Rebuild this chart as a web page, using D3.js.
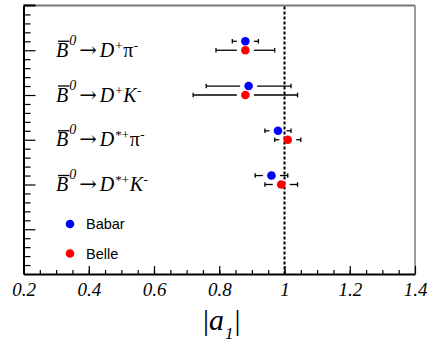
<!DOCTYPE html>
<html>
<head>
<meta charset="utf-8">
<script src="https://cdn.jsdelivr.net/npm/d3@7"></script>
<style>
  body { margin: 0; background: #fff; }
  svg { display: block; }
</style>
</head>
<body>
<script>
// decay channels, B0bar -> D(state) + light meson
const dStates = ["+", "+", "*+", "*+"];
const lightMesons = ["π", "K", "π", "K"];

// |a1| values
const babar = [0.88, 0.89, 0.98, 0.96];
const babarErr = [0.04, 0.13, 0.04, 0.05];
const belle = [0.88, 0.88, 1.01, 0.99];
const belleErr = [0.09, 0.16, 0.04, 0.05];

const xTicks = [0.2, 0.4, 0.6, 0.8, 1.0, 1.2, 1.4];

const width = 427, height = 343;
const frameL = 23.5, frameR = 415, frameT = 5.5, frameB = 274;

const svg = d3.select("body").append("svg")
  .attr("width", width)
  .attr("height", height);

const x = d3.scaleLinear().domain([0.2, 1.4]).range([frameL, frameR]);
const y = d3.scaleLinear().domain([0, 6]).range([frameB, frameT]);

// frame (top and right drawn greyish like the original)
svg.append("line").attr("x1", frameL).attr("x2", frameR).attr("y1", frameT).attr("y2", frameT)
  .attr("stroke", "#777").attr("stroke-width", 2);
svg.append("line").attr("x1", frameL).attr("x2", frameL + 12).attr("y1", frameT).attr("y2", frameT)
  .attr("stroke", "#000").attr("stroke-width", 2);
svg.append("line").attr("x1", frameR).attr("x2", frameR).attr("y1", frameT).attr("y2", frameB)
  .attr("stroke", "#666").attr("stroke-width", 1.3);

// x axis, ticks pointing inward
const fmt = d => String(+d.toFixed(1));
const xAxis = svg.append("g")
  .attr("transform", `translate(0,${frameB})`)
  .call(d3.axisBottom(x).tickValues(xTicks).tickSizeInner(-8).tickSizeOuter(0)
    .tickPadding(9).tickFormat(fmt));
svg.append("g")
  .attr("transform", `translate(0,${frameB})`)
  .call(d3.axisBottom(x).tickValues(d3.range(0.25, 1.4, 0.05)).tickSizeInner(-4)
    .tickSizeOuter(0).tickFormat(""))
  .select(".domain").remove();
xAxis.select(".domain").attr("stroke-width", 2);
xAxis.selectAll("text")
  .attr("font-family", "Liberation Serif, serif")
  .attr("font-style", "italic")
  .attr("font-size", 19)
  .attr("fill", "#000");

// y axis, no labels
const yAxis = svg.append("g")
  .attr("transform", `translate(${frameL},0)`)
  .call(d3.axisLeft(y).tickValues([1, 2, 3, 4, 5]).tickSizeInner(-12).tickSizeOuter(0).tickFormat(""));
yAxis.select(".domain").attr("stroke-width", 2);
svg.append("g")
  .attr("transform", `translate(${frameL},0)`)
  .call(d3.axisLeft(y).tickValues(d3.range(0.2, 6, 0.2).filter(v => Math.abs(v - Math.round(v)) > 0.01))
    .tickSizeInner(-7).tickSizeOuter(0).tickFormat(""))
  .select(".domain").remove();
svg.selectAll(".tick line").attr("stroke", "#000").attr("stroke-width", 1.2);

// reference line at |a1| = 1
svg.append("line")
  .attr("x1", x(1)).attr("x2", x(1)).attr("y1", frameT + 1).attr("y2", frameB)
  .attr("stroke", "#000").attr("stroke-width", 2).attr("stroke-dasharray", "3,2");

// points with ROOT-style error bars (gap around the marker, end caps)
const gap = 8.5, cap = 2.3;
function drawPoints(vals, errs, color, offset) {
  const g = svg.append("g");
  vals.forEach((v, i) => {
    const yy = y(dStates.length + 1 - i + offset);
    const cx = x(v), lo = x(v - errs[i]), hi = x(v + errs[i]);
    g.append("line").attr("x1", lo).attr("x2", cx - gap).attr("y1", yy).attr("y2", yy);
    g.append("line").attr("x1", cx + gap).attr("x2", hi).attr("y1", yy).attr("y2", yy);
    g.append("line").attr("x1", lo).attr("x2", lo).attr("y1", yy - cap).attr("y2", yy + cap);
    g.append("line").attr("x1", hi).attr("x2", hi).attr("y1", yy - cap).attr("y2", yy + cap);
    g.append("circle").attr("cx", cx).attr("cy", yy).attr("r", 4.3).attr("fill", color);
  });
  g.selectAll("line").attr("stroke", "#000").attr("stroke-width", 1.3);
}
drawPoints(babar, babarErr, "#0000ff", 0.2);
drawPoints(belle, belleErr, "#ff0000", 0);

// channel labels
dStates.forEach((st, i) => {
  const base = y(dStates.length + 1 - i) + 6.5;
  const t = svg.append("text")
    .attr("x", 56).attr("y", base)
    .attr("font-family", "Liberation Serif, serif")
    .attr("font-size", 20)
    .attr("fill", "#000");
  t.append("tspan").attr("font-style", "italic").text("B");
  t.append("tspan").attr("font-style", "italic").attr("font-size", 14).attr("dy", -12).attr("dx", 1).text("0");
  t.append("tspan").attr("font-family", "DejaVu Serif, serif").attr("font-size", 21)
    .attr("dy", 12).attr("dx", 3).text("→");
  t.append("tspan").attr("font-style", "italic").attr("dx", 3).text("D");
  t.append("tspan").attr("font-size", 13).attr("dy", -7).attr("dx", 1).text(st);
  t.append("tspan").attr("dy", 7).attr("dx", 0.5).attr("font-style", lightMesons[i] === "K" ? "italic" : "normal").text(lightMesons[i]);
  t.append("tspan").attr("font-size", 13).attr("dy", -7).attr("dx", 0.5).text("-");
  // bar over the B
  const b = t.node().getExtentOfChar(0);
  svg.append("line")
    .attr("x1", b.x + 2).attr("x2", b.x + b.width + 1)
    .attr("y1", base - 15.5).attr("y2", base - 15.5)
    .attr("stroke", "#000").attr("stroke-width", 1.3);
});

// legend
const legend = [["Babar", "#0000ff"], ["Belle", "#ff0000"]];
legend.forEach(([name, color], i) => {
  const yy = 224 + i * 29.5;
  svg.append("circle").attr("cx", 70).attr("cy", yy).attr("r", 4.3).attr("fill", color);
  svg.append("text").attr("x", 86).attr("y", yy + 5.3)
    .attr("font-family", "Liberation Sans, Arial, sans-serif")
    .attr("font-size", 14.5).attr("fill", "#000").text(name);
});

// axis title |a1|
const title = svg.append("text")
  .attr("x", 203).attr("y", 330)
  .attr("font-family", "Liberation Serif, serif")
  .attr("font-size", 30)
  .attr("fill", "#000");
title.append("tspan").text("|");
title.append("tspan").attr("font-style", "italic").text("a");
title.append("tspan").attr("font-style", "italic").attr("font-size", 17).attr("dy", 9).attr("dx", 1).text("1");
title.append("tspan").attr("dy", -9).attr("dx", 1).text("|");
</script>
</body>
</html>
